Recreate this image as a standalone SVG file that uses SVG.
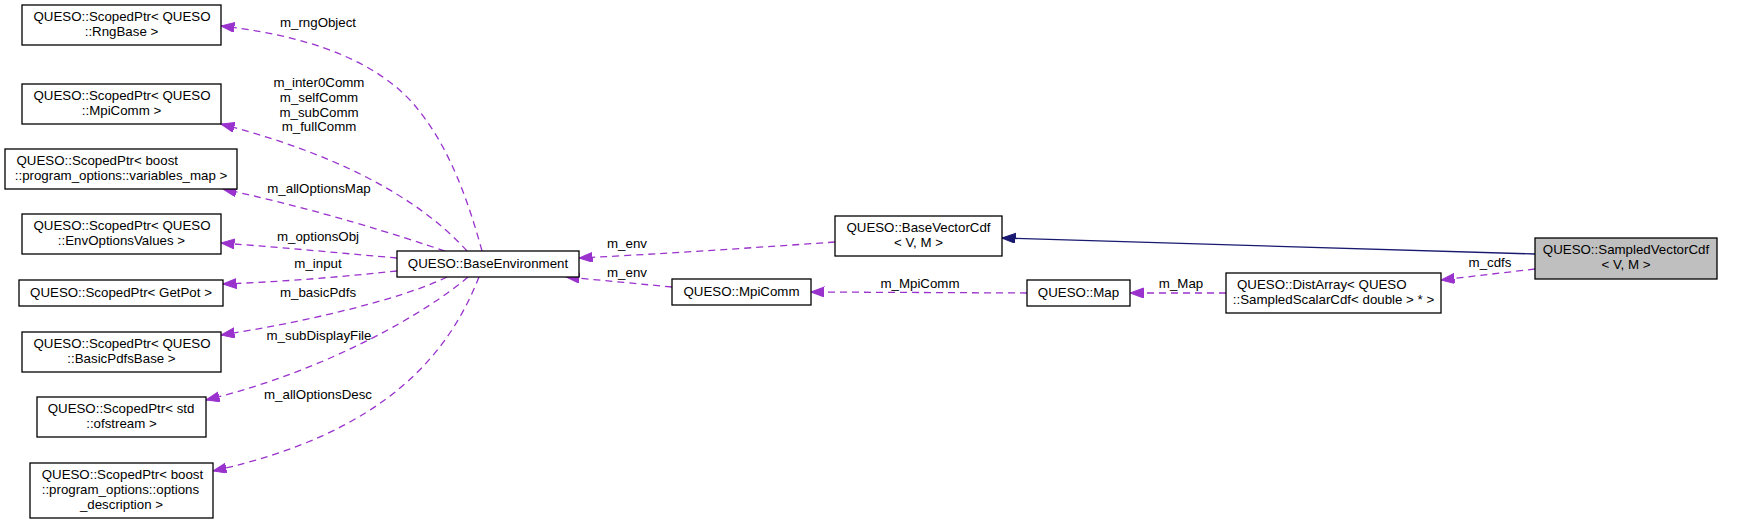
<svg xmlns="http://www.w3.org/2000/svg" width="1741" height="524" viewBox="0 0 1741 524">
<style>
text{font-family:"Liberation Sans",Arial,sans-serif;font-size:13.3px;fill:#000}
.m{text-anchor:middle}
.box{fill:#fff;stroke:#000;stroke-width:1.3}
.e{fill:none;stroke:#9a32cd;stroke-width:1.3;stroke-dasharray:7,5}
.inh{fill:none;stroke:#191970;stroke-width:1.3}
</style>
<defs>
<marker id="ap" markerUnits="userSpaceOnUse" markerWidth="14" markerHeight="11" refX="13.5" refY="5" orient="auto">
<path d="M0,0 L13.5,5 L0,10 z" fill="#9a32cd" stroke="#9a32cd" stroke-width="1"/>
</marker>
<marker id="an" markerUnits="userSpaceOnUse" markerWidth="14" markerHeight="11" refX="13.5" refY="5" orient="auto">
<path d="M0,0 L13.5,5 L0,10 z" fill="#191970" stroke="#191970" stroke-width="1"/>
</marker>
</defs>
<rect width="1741" height="524" fill="#fff"/>
<g id="edges">
<path class="e" d="M482,251 C468,200 450,150 420,112 C390,72 330,38 221,26" marker-end="url(#ap)"/>
<path class="e" d="M467,251 C430,210 360,160 221,124" marker-end="url(#ap)"/>
<path class="e" d="M445,251 C400,236 320,210 223,189" marker-end="url(#ap)"/>
<path class="e" d="M397,258 C350,254 290,248 221,243" marker-end="url(#ap)"/>
<path class="e" d="M397,271 C340,277 280,282 223,284" marker-end="url(#ap)"/>
<path class="e" d="M447,277 C400,300 300,323 221,335" marker-end="url(#ap)"/>
<path class="e" d="M468,277 C430,310 330,370 206,400" marker-end="url(#ap)"/>
<path class="e" d="M479,277 C450,350 390,432 213,471" marker-end="url(#ap)"/>
<path class="e" d="M835,242 C750,248 660,254 579,258" marker-end="url(#ap)"/>
<path class="e" d="M672,287 C640,284 610,281 566,277" marker-end="url(#ap)"/>
<path class="e" d="M1027,293 L811,292" marker-end="url(#ap)"/>
<path class="e" d="M1226,293 L1130,293" marker-end="url(#ap)"/>
<path class="e" d="M1535,269 L1441,280" marker-end="url(#ap)"/>
<path class="inh" d="M1535,254 L1002,238" marker-end="url(#an)"/>
<text class="m" x="318" y="27">m_rngObject</text>
<text class="m" x="319" y="87">m_inter0Comm</text>
<text class="m" x="319" y="102">m_selfComm</text>
<text class="m" x="319" y="117">m_subComm</text>
<text class="m" x="319" y="131">m_fullComm</text>
<text class="m" x="319" y="193">m_allOptionsMap</text>
<text class="m" x="318" y="241">m_optionsObj</text>
<text class="m" x="318" y="268">m_input</text>
<text class="m" x="318" y="297">m_basicPdfs</text>
<text class="m" x="319" y="340">m_subDisplayFile</text>
<text class="m" x="318" y="399">m_allOptionsDesc</text>
<text class="m" x="627" y="248">m_env</text>
<text class="m" x="627" y="277">m_env</text>
<text class="m" x="920" y="288">m_MpiComm</text>
<text class="m" x="1181" y="288">m_Map</text>
<text class="m" x="1490" y="267">m_cdfs</text>
</g>
<g id="n_rng"><rect class="box" x="22" y="5" width="199" height="40"/><text x="33.5" y="21">QUESO::ScopedPtr&lt; QUESO</text><text class="m" x="121.5" y="36">::RngBase &gt;</text></g>
<g id="n_mpiptr"><rect class="box" x="22" y="84" width="199" height="40"/><text x="33.5" y="100">QUESO::ScopedPtr&lt; QUESO</text><text class="m" x="121.5" y="115">::MpiComm &gt;</text></g>
<g id="n_varmap"><rect class="box" x="5" y="149" width="232" height="40"/><text x="16.5" y="165">QUESO::ScopedPtr&lt; boost</text><text class="m" x="121" y="180">::program_options::variables_map &gt;</text></g>
<g id="n_envopt"><rect class="box" x="22" y="214" width="199" height="40"/><text x="33.5" y="230">QUESO::ScopedPtr&lt; QUESO</text><text class="m" x="121.5" y="245">::EnvOptionsValues &gt;</text></g>
<g id="n_getpot"><rect class="box" x="19" y="280" width="204" height="26"/><text class="m" x="121" y="297">QUESO::ScopedPtr&lt; GetPot &gt;</text></g>
<g id="n_basicpdfs"><rect class="box" x="22" y="332" width="199" height="40"/><text x="33.5" y="348">QUESO::ScopedPtr&lt; QUESO</text><text class="m" x="121.5" y="363">::BasicPdfsBase &gt;</text></g>
<g id="n_ofstream"><rect class="box" x="37" y="397" width="169" height="40"/><text x="47.7" y="413">QUESO::ScopedPtr&lt; std</text><text class="m" x="121.5" y="428">::ofstream &gt;</text></g>
<g id="n_optdesc"><rect class="box" x="30" y="463" width="183" height="55"/><text x="41.7" y="478.5">QUESO::ScopedPtr&lt; boost</text><text x="41.7" y="493.5">::program_options::options</text><text class="m" x="121.5" y="508.5">_description &gt;</text></g>
<g id="n_baseenv"><rect class="box" x="397" y="251" width="182" height="26"/><text class="m" x="488" y="268">QUESO::BaseEnvironment</text></g>
<g id="n_mpicomm"><rect class="box" x="672" y="279" width="139" height="26"/><text class="m" x="741.5" y="296">QUESO::MpiComm</text></g>
<g id="n_basevec"><rect class="box" x="835" y="216" width="167" height="40"/><text class="m" x="918.5" y="232">QUESO::BaseVectorCdf</text><text class="m" x="918.5" y="247">&lt; V, M &gt;</text></g>
<g id="n_map"><rect class="box" x="1027" y="280" width="103" height="26"/><text class="m" x="1078.5" y="297">QUESO::Map</text></g>
<g id="n_distarray"><rect class="box" x="1226" y="273" width="215" height="40"/><text x="1237" y="289">QUESO::DistArray&lt; QUESO</text><text class="m" x="1333.5" y="304">::SampledScalarCdf&lt; double &gt; * &gt;</text></g>
<g id="n_sampled"><rect class="box" x="1535" y="238" width="182" height="41" fill="#bfbfbf" style="fill:#bfbfbf"/><text class="m" x="1626" y="254">QUESO::SampledVectorCdf</text><text class="m" x="1626" y="269">&lt; V, M &gt;</text></g>
</svg>
